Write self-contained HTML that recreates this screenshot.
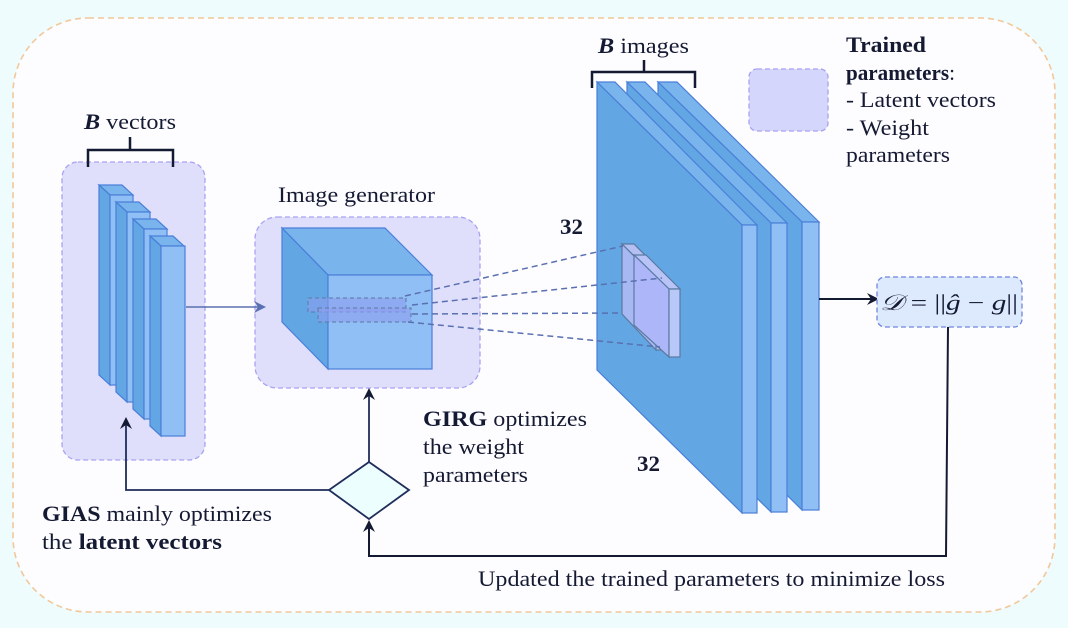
<!DOCTYPE html>
<html><head><meta charset="utf-8"><style>
html,body{margin:0;padding:0;background:#effcfd;}
svg{display:block;}
text{font-family:"Liberation Serif",serif;fill:#151a33;font-size:22px;}
</style></head><body>
<svg width="1068" height="628" viewBox="0 0 1068 628" xmlns="http://www.w3.org/2000/svg">
<defs>
<marker id="ab" markerWidth="12" markerHeight="12" refX="10" refY="6" orient="auto" markerUnits="userSpaceOnUse"><path d="M0,0 L12,6 L0,12 L4,6 Z" fill="#151a33"/></marker>
<marker id="ag" markerWidth="12" markerHeight="12" refX="10" refY="6" orient="auto" markerUnits="userSpaceOnUse"><path d="M0,0 L12,6 L0,12 L4,6 Z" fill="#5a70b0"/></marker>
</defs>
<rect x="0" y="0" width="1068" height="628" fill="#effcfd"/>
<rect x="13" y="18" width="1042" height="594" rx="75" fill="#fdfcff" stroke="#f2c89a" stroke-width="1.6" stroke-dasharray="6,4"/>

<!-- left vectors container -->
<rect x="62" y="162" width="143" height="298" rx="16" fill="#dfdffb" stroke="#a9a3f0" stroke-width="1.3" stroke-dasharray="5,3"/>
<path d="M88,167 V150 H173 V167 M130,150 V137" fill="none" stroke="#151a33" stroke-width="2.5"/>
<text x="84" y="129" textLength="92" lengthAdjust="spacingAndGlyphs"><tspan font-weight="bold" font-style="italic">B</tspan> vectors</text>
<g stroke="#4a7fd8" stroke-width="1.2">
<g>
<polygon points="99,185 122,185 133,195 110,195" fill="#7ab4ec"/>
<polygon points="99,185 110,195 110,385 99,375" fill="#62a6e4"/>
<rect x="110" y="195" width="23" height="190" fill="#8fbff5"/>
</g>
<g transform="translate(17,17)">
<polygon points="99,185 122,185 133,195 110,195" fill="#7ab4ec"/>
<polygon points="99,185 110,195 110,385 99,375" fill="#62a6e4"/>
<rect x="110" y="195" width="23" height="190" fill="#8fbff5"/>
</g>
<g transform="translate(34,34)">
<polygon points="99,185 122,185 133,195 110,195" fill="#7ab4ec"/>
<polygon points="99,185 110,195 110,385 99,375" fill="#62a6e4"/>
<rect x="110" y="195" width="23" height="190" fill="#8fbff5"/>
</g>
<g transform="translate(51,51)">
<polygon points="99,185 122,185 133,195 110,195" fill="#7ab4ec"/>
<polygon points="99,185 110,195 110,385 99,375" fill="#62a6e4"/>
<rect x="110" y="195" width="24" height="190" fill="#8fbff5"/>
</g>
</g>

<!-- image generator -->
<rect x="255" y="217" width="225" height="171" rx="22" fill="#dfdffb" stroke="#a9a3f0" stroke-width="1.3" stroke-dasharray="5,3"/>
<line x1="186" y1="307" x2="264" y2="307" stroke="#5a70b0" stroke-width="1.5" marker-end="url(#ag)"/>
<text x="278" y="202" textLength="157" lengthAdjust="spacingAndGlyphs">Image generator</text>
<g stroke="#4a7fd8" stroke-width="1.2">
<polygon points="282,228 385,228 432,275 328,275" fill="#7ab4ec"/>
<polygon points="282,228 328,275 328,369 282,322" fill="#62a6e4"/>
<rect x="328" y="275" width="104" height="94" fill="#8fbff5"/>
</g>
<g stroke="#5a7aa0" stroke-width="1" stroke-dasharray="4,3" fill="#8d9ff0" fill-opacity="0.6">
<rect x="308" y="298" width="98" height="14"/>
<rect x="318" y="308" width="93" height="14"/>
</g>

<!-- image plates -->
<g stroke="#4a7fd8" stroke-width="1.2">
<polygon points="658,82 677,82 819,222 802,222" fill="#7ab4ec"/>
<polygon points="658,82 802,222 802,510 658,368" fill="#62a6e4"/>
<rect x="802" y="222" width="17" height="288" fill="#8fbff5"/>
<polygon points="627,82 645,82 787,223 771,223" fill="#7ab4ec"/>
<polygon points="627,82 771,223 771,512 627,370" fill="#62a6e4"/>
<rect x="771" y="223" width="16" height="289" fill="#8fbff5"/>
<polygon points="597,82 615,82 757,225 742,225" fill="#7ab4ec"/>
<polygon points="597,82 742,225 742,513 597,370" fill="#62a6e4"/>
<rect x="742" y="225" width="15" height="288" fill="#8fbff5"/>
</g>
<g stroke="#5a7aa0" stroke-width="1.2">
<polygon points="622,244 634,244 668,278 656,278" fill="#b4c0f4"/>
<polygon points="622,244 656,278 656,350 622,314" fill="#a8b8f3"/>
<rect x="656" y="278" width="12" height="72" fill="#b0c2f6"/>
<polygon points="634,255 646,255 680,289 669,289" fill="#b8c4f8"/>
<polygon points="634,255 669,289 669,357 634,325" fill="#adb6f8"/>
<rect x="669" y="289" width="11" height="68" fill="#b8c8f8"/>
</g>
<g stroke="#5a70b0" stroke-width="1.5" stroke-dasharray="6,4" fill="none">
<line x1="405" y1="296" x2="623" y2="246"/>
<line x1="412" y1="305" x2="662" y2="278"/>
<line x1="412" y1="314" x2="622" y2="313"/>
<line x1="408" y1="322" x2="660" y2="347"/>
</g>
<path d="M592,88 V72 H695 V88 M644,72 V60" fill="none" stroke="#151a33" stroke-width="2.5"/>
<text x="598" y="53" textLength="91" lengthAdjust="spacingAndGlyphs"><tspan font-weight="bold" font-style="italic">B</tspan> images</text>
<text x="560" y="234" font-weight="bold" textLength="23" lengthAdjust="spacingAndGlyphs">32</text>
<text x="637" y="471" font-weight="bold" textLength="23" lengthAdjust="spacingAndGlyphs">32</text>

<!-- legend -->
<rect x="749" y="69" width="79" height="62" rx="8" fill="#d4d6fb" stroke="#a9a3f0" stroke-width="1.3" stroke-dasharray="5,3"/>
<text x="846" y="52" font-weight="bold" textLength="80" lengthAdjust="spacingAndGlyphs">Trained</text>
<text x="846" y="80" textLength="109" lengthAdjust="spacingAndGlyphs"><tspan font-weight="bold">parameters</tspan>:</text>
<text x="846" y="107" textLength="150" lengthAdjust="spacingAndGlyphs">- Latent vectors</text>
<text x="846" y="135" textLength="83" lengthAdjust="spacingAndGlyphs">- Weight</text>
<text x="846" y="162" textLength="104" lengthAdjust="spacingAndGlyphs">parameters</text>

<!-- loss -->
<line x1="819" y1="299" x2="877" y2="299" stroke="#151a33" stroke-width="2" marker-end="url(#ab)"/>
<rect x="877" y="277" width="145" height="50" rx="8" fill="#dde9fc" stroke="#6f86dc" stroke-width="1.3" stroke-dasharray="5,3"/>
<text x="880" y="310" font-size="26" font-style="italic" fill="#1a2a55" textLength="138" lengthAdjust="spacingAndGlyphs">𝒟 <tspan font-style="normal">= ||</tspan>ĝ <tspan font-style="normal">−</tspan> g<tspan font-style="normal">||</tspan></text>

<path d="M948,327 L946,556 H369 V522" fill="none" stroke="#151a33" stroke-width="2" marker-end="url(#ab)"/>
<polygon points="369,462 409,490 369,519 329,490" fill="#ecfefe" stroke="#1f2d5a" stroke-width="1.8"/>
<line x1="369" y1="462" x2="369" y2="390" stroke="#1f2d5a" stroke-width="1.8" marker-end="url(#ab)"/>
<path d="M329,490 H126 V419" fill="none" stroke="#1f2d5a" stroke-width="1.8" marker-end="url(#ab)"/>

<text x="423" y="426" textLength="164" lengthAdjust="spacingAndGlyphs"><tspan font-weight="bold">GIRG</tspan> optimizes</text>
<text x="423" y="454" textLength="101" lengthAdjust="spacingAndGlyphs">the weight</text>
<text x="423" y="482" textLength="105" lengthAdjust="spacingAndGlyphs">parameters</text>
<text x="42" y="521" textLength="230" lengthAdjust="spacingAndGlyphs"><tspan font-weight="bold">GIAS</tspan> mainly optimizes</text>
<text x="42" y="549" textLength="180" lengthAdjust="spacingAndGlyphs">the  <tspan font-weight="bold">latent vectors</tspan></text>
<text x="478" y="586" textLength="467" lengthAdjust="spacingAndGlyphs">Updated the trained parameters to minimize loss</text>
</svg>
</body></html>
